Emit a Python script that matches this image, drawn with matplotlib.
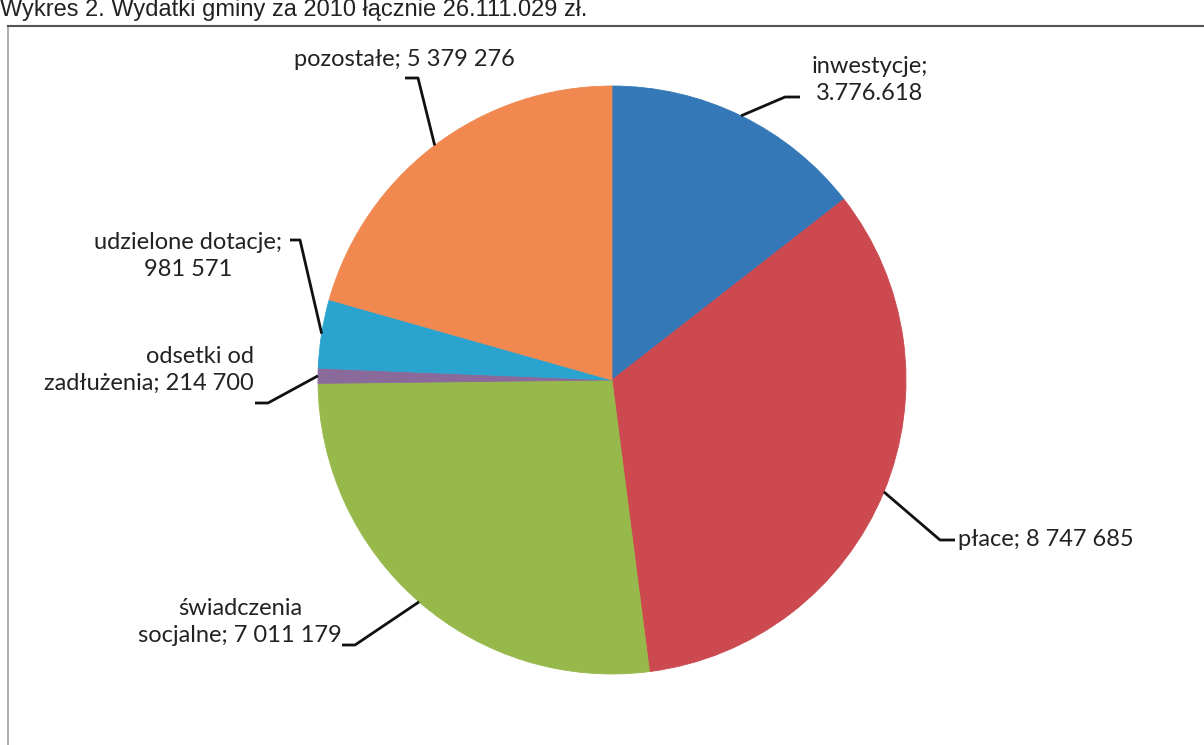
import numpy as np
import matplotlib
matplotlib.use("Agg")
import matplotlib.pyplot as plt

# dane: wydatki gminy (zł)
categories = ["inwestycje", "płace", "świadczenia socjalne", "odsetki od zadłużenia",
              "udzielone dotacje", "pozostałe"]
values = [3776618, 8747685, 7011179, 214700, 981571, 5379276]
label_texts = ["inwestycje;\n3.776.618", "płace; 8 747 685", "świadczenia\nsocjalne; 7 011 179",
               "odsetki od\nzadłużenia; 214 700", "udzielone dotacje;\n981 571",
               "pozostałe; 5 379 276"]
colors = ["#3478b8", "#cc4a4f", "#97b84a", "#8a6a9a", "#2aa4cf", "#f08850"]

W, H = 1204, 745
fig = plt.figure(figsize=(W / 100, H / 100), dpi=100)
ax = fig.add_axes([0, 0, 1, 1])

def Y(y):
    return H - y

cx, cy, r = 612, Y(380), 294
wedges, _ = ax.pie(values, colors=colors, startangle=90, counterclock=False,
                   center=(cx, cy), radius=r, frame=True,
                   wedgeprops=dict(linewidth=0.6))
for w, c in zip(wedges, colors):
    w.set_edgecolor(c)
ax.set_xlim(0, W)
ax.set_ylim(0, H)
ax.set_aspect("equal")
ax.axis("off")

# label layout: (elbow x, elbow y, end x, text x, text y, ha)
layout = [
    (785, 97, 800, 870, 80, "center"),
    (940, 540, 955, 958, 539, "left"),
    (355, 645, 342, 240, 622, "center"),
    (268, 403, 255, 254, 370, "right"),
    (300, 240, 290, 188, 256, "center"),
    (418, 78, 405, 404, 60, "center"),
]

for w, txt, (ex, ey, tx, lx, ly, ha) in zip(wedges, label_texts, layout):
    mid = np.deg2rad((w.theta1 + w.theta2) / 2)
    px = cx + r * np.cos(mid)
    py = cy + r * np.sin(mid)
    ax.plot([px, ex, tx], [py, Y(ey), Y(ey)], color="#111111", lw=2, solid_capstyle="butt")
    ax.text(lx, Y(ly), txt, ha=ha, va="center",
            multialignment="center" if ha == "center" else "right",
            fontsize=17, family="Lato", color="#222222", linespacing=1.3)

# ramka wykresu
ax.plot([8, 8], [0, Y(26)], color="#b0b0b0", lw=1.5)
ax.plot([8, W], [Y(26), Y(26)], color="#555555", lw=1.5)

# tytuł
fig.text(0.0, 1 - 16 / H, "Wykres 2. Wydatki gminy za 2010 łącznie 26.111.029 zł.",
         ha="left", va="baseline", fontsize=17, family="Liberation Sans", color="#222222")

fig.savefig("out.png", dpi=100)
